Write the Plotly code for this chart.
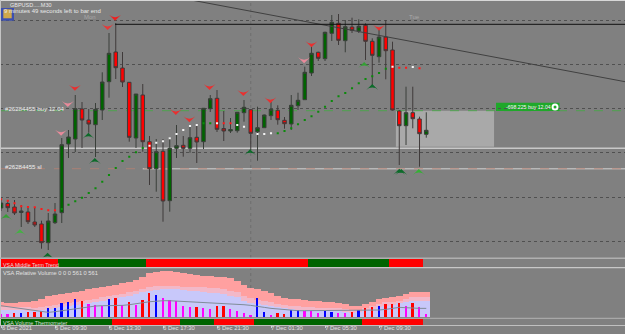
import plotly.graph_objects as go

W, H = 625, 334

# M30 candles, price in chart points
opens = [50, 54.5, 51, 45.5, 46, 36, 34, 15.3, 35.3, 45.3, 114, 119, 149, 138, 133.3, 148,
         176.3, 206, 190, 175.7, 120, 163, 116.3, 89.3, 106.7, 57.3, 109.7, 112.7, 109.7, 120.7, 116.3, 149.3,
         159.7, 129.5, 127, 127.3, 145.3, 148.3, 126.3, 130.3, 142.3, 147.7, 137.7, 134, 152.3, 158.3, 185, 205.7,
         199.3, 224.7, 234.7, 217.3, 231, 227, 232.7, 216.7, 201.3, 221, 208, 147, 132.3, 145.3, 139, 123.7]
highs = [58, 58, 58, 53, 51, 51, 37.3, 45, 55, 120, 128, 163, 156, 149, 155, 185.7,
         225, 235, 206, 176, 164, 174, 122, 119, 119, 121, 133, 122, 133, 133, 150, 163,
         168, 147, 140, 146, 158, 149, 151.3, 143.5, 156.3, 152.7, 141, 163, 165.3, 191.3, 213, 206.3,
         226.3, 243, 244, 238, 240.3, 238.7, 234.7, 219.7, 228, 238, 216.3, 148, 171.3, 171.3, 141.3, 145.7]
lows = [47, 46, 43, 31, 34, 31, 9.3, 8, 34, 35, 100, 106, 110, 125.3, 101, 138,
        160.3, 179, 171, 116.3, 110, 106.3, 73, 66.3, 36.3, 46.3, 100, 101.3, 105.3, 95, 109, 146,
        126, 117, 125, 125.3, 136.3, 108, 97.3, 130, 138, 133.3, 129.3, 128, 148, 158, 182, 197,
        197, 217, 213, 205.7, 225, 225, 198, 173, 195.3, 178.7, 147.5, 93, 113, 129.7, 91.3, 120.3]
closes = [55, 50.3, 45, 47, 36.3, 33, 15.3, 37, 44, 113.3, 121, 149.3, 138, 134, 148.7, 176,
          204.7, 190.3, 176, 120.7, 164, 116.3, 89.3, 106.3, 57, 109.7, 112.3, 109.7, 120.3, 116, 149.7, 159.3,
          128.7, 127, 128.5, 145.7, 150.7, 124.7, 130.3, 143, 148.7, 138.3, 134.3, 152.7, 157.7, 185.7, 204.7, 199.7,
          225.7, 235.7, 217.7, 231.3, 227.7, 231.7, 216.7, 202.7, 221, 207.3, 148, 132.3, 145.3, 139.3, 124.3, 127.7]
bars = list(range(len(opens)))

# Trailing stop dots: bar, level, state
stop_bars = [0, 1, 2, 3, 4, 5, 6, 7, 8, 9, 10, 11, 12, 13, 14, 15, 16, 17, 18, 19, 20, 21,
             22, 23, 24, 25, 26, 27, 28, 29, 30, 31, 32, 33, 34, 35, 36, 38, 39, 40, 41, 42,
             43, 44, 45, 46, 47, 48, 49, 50, 51, 52, 53, 54, 55, 56, 57, 58, 59, 60, 61, 62]
stop_levels = [58.7, 57.3, 54.7, 51.7, 51, 50.7, 49, 47.7, 47.7, 49, 53.3, 56.7, 60.3, 65, 69.7, 76.3, 83, 90, 97, 101.3, 105.7, 110,
               112.3, 115.3, 116.7, 119.7, 124, 128, 132, 133, 134.7, 134.7, 134.7, 134.7, 134.7, 133, 131.3, 124, 124, 124.7, 124.7, 127,
               129.7, 133.7, 138, 141.7, 146.3, 151.3, 157, 161.7, 165, 169.7, 174.7, 179, 181.7, 185, 189.3, 191.3, 190.3, 190.3, 191, 189.7]
stop_states = ["r"] * 9 + ["g"] * 13 + ["w"] * 8 + ["g", "g", "w", "r", "r", "w", "w", "w", "w", "w", "g", "g"] \
    + ["g"] * 15 + ["w", "r", "r", "w", "r"]
STATE_COLOURS = {"r": "#ff1a1a", "g": "#0c8a0c", "w": "#f4f4f4"}

# Swing arrows: bar position and level
sell_bars = [16.9, 15.8, 10.95, 9.9, 25.9, 27.9, 30.9, 35.9, 39.9, 46.0, 44.9, 56.0, 8.9]
sell_levels = [237.3, 228, 167.3, 151, 143, 135.7, 168, 162, 154.7, 210.7, 194.7, 227.3, 122.3]
sell_colours = ["#ee2020", "#e83838", "#e83030", "#e88a9a", "#e83030", "#e83030", "#e83030", "#e83030",
                "#e83030", "#e83030", "#e88a9a", "#e83030", "#e88a9a"]
buy_bars = [0.75, 2.8, 6.9, 13.9, 12.95, 36.9, 59.0, 53.8, 55.0, 61.9, 59.3]
buy_levels = [44, 28.7, 5.3, 100, 125.3, 108.7, 89.3, 196, 174, 89, 89]
buy_colours = ["#35a035", "#45b045", "#0d6b2a", "#0d6b2a", "#0d6b2a", "#0d6b2a", "#0d6b2a", "#35a035", "#0d6b2a", "#35b035", "#0d6b2a"]

# Trend strips: per-bar states
mid_term = ["r"] * 9 + ["g"] * 13 + ["r"] * 24 + ["g"] * 12 + ["r"] * 5 + ["n"]
thermo = ["g"] * 17 + ["r"] * 10 + ["g"] * 5 + ["r"] * 6 + ["g"] * 16 + ["r"] * 9 + ["n"]
STRIP_COLOURS = {"r": "#ff0000", "g": "#006400", "n": "#808080"}

# Relative volume panel
volume = [7, 7, 11, 11, 14, 15, 17, 27, 28, 41, 45, 54, 49, 39, 35, 32,
          53, 58, 37, 44, 36, 52, 73, 67, 57, 50, 48, 32, 29, 30, 27, 24,
          32, 34, 23, 17, 12, 4, 57, 15, 6, 10, 8, 19, 19, 18, 17, 12,
          18, 14, 12, 10, 13, 22, 27, 31, 32, 39, 38, 42, 32, 42, 31, 9]
volume_class = list("mmrbrrrbbbbbrmmmbrmrmrrbmmmmmrmm" "rrmmmmbbmrrbbmmmbbmmrbrrbrrrmrmm")
VOLUME_COLOURS = {"m": "#ff00ff", "r": "#ff0000", "b": "#0000ff"}
band_high = [44, 43, 43, 44, 46, 48, 53, 64, 65, 69, 71, 75, 79, 83, 86, 90,
             93, 97, 101, 105, 111, 121, 131, 136, 137, 137, 136, 132, 129, 126, 123, 122,
             121, 119, 116, 109, 96, 87, 85, 77, 71, 64, 58, 55, 54, 52, 49, 47,
             46, 44, 43, 39, 34, 34, 39, 46, 53, 57, 59, 62, 68, 75, 76, 74]
band_mid = [31, 29, 29, 29, 29, 28, 29, 34, 37, 39, 42, 46, 49, 52, 55, 59,
            62, 66, 69, 74, 79, 84, 89, 92, 94, 94, 93, 91, 89, 89, 89, 87,
            86, 84, 79, 74, 64, 56, 52, 48, 44, 40, 37, 34, 32, 31, 29, 28,
            27, 26, 26, 24, 21, 22, 26, 32, 39, 44, 46, 49, 54, 59, 59, 59]
band_low = [19, 19, 19, 19, 18, 17, 19, 24, 27, 29, 32, 36, 39, 42, 46, 49,
            52, 56, 59, 64, 69, 74, 79, 82, 84, 84, 83, 81, 79, 77, 74, 72,
            71, 69, 64, 59, 49, 43, 39, 36, 32, 29, 26, 24, 22, 21, 19, 19,
            18, 17, 17, 15, 11, 14, 19, 24, 29, 34, 37, 41, 44, 49, 49, 49]
volume_avg = [34, 31, 27, 24, 21, 19, 17, 14, 16, 19, 22, 26, 29, 31, 33, 34,
              34, 34, 35, 37, 39, 43, 46, 48, 49, 49, 48, 47, 46, 46, 44, 42,
              42, 41, 39, 38, 37, 35, 33, 29, 26, 24, 22, 20, 19, 19, 19, 19,
              19, 19, 19, 19, 19, 19, 19, 20, 21, 23, 26, 29, 28, 26, 26, 26]

# Axis ticks and price levels
tick_bars = [0, 8, 16, 24, 32, 40, 48, 56]
tick_labels = ["6 Dec 2021", "6 Dec 09:30", "6 Dec 13:30", "6 Dec 17:30",
               "6 Dec 21:30", "7 Dec 01:30", "7 Dec 05:30", "7 Dec 09:30"]
grid_levels = [237.7, 193.3, 149.5, 105.7, 60.7, 16.7]
resistance_level = 233.7
resistance_start = 16.9
trend_bars = [28.15, 92.44]
trend_levels = [258, 176.3]
buy_level = 147.3
stop_level = 89.3
upper_level = 109.7
profit_zone_bars = [58.5, 73.04]
profit_zone_levels = [111.3, 147.3]
separator_bar = 37
X_RANGE = [-0.148, 92.44]

BG = "#808080"
FONT = "Liberation Sans"


def vdom(top, bottom):
    return [1 - bottom / H, 1 - top / H]


fig = go.Figure()

# Price panel
fig.add_trace(go.Candlestick(
    x=bars, open=opens, high=highs, low=lows, close=closes, xaxis="x", yaxis="y",
    increasing=dict(fillcolor="#006400", line=dict(color="#3a3f3a", width=1)),
    decreasing=dict(fillcolor="#ff0000", line=dict(color="#3f3a3a", width=1)),
    whiskerwidth=0, hoverinfo="skip", showlegend=False))
fig.add_trace(go.Scatter(
    x=stop_bars, y=stop_levels, mode="markers", hoverinfo="skip", showlegend=False,
    marker=dict(symbol="square", size=2.1, color=[STATE_COLOURS[s] for s in stop_states], line=dict(width=0))))
fig.add_trace(go.Scatter(
    x=sell_bars, y=sell_levels, mode="markers", hoverinfo="skip", showlegend=False,
    marker=dict(symbol="arrow-wide", angle=180, size=8.5, color=sell_colours, line=dict(width=0))))
fig.add_trace(go.Scatter(
    x=buy_bars, y=buy_levels, mode="markers", hoverinfo="skip", showlegend=False,
    marker=dict(symbol="arrow-wide", size=8.5, color=buy_colours, line=dict(width=0))))
fig.add_trace(go.Scatter(
    x=trend_bars, y=trend_levels, mode="lines", hoverinfo="skip", showlegend=False,
    line=dict(color="#404040", width=1)))
fig.add_trace(go.Scatter(
    x=[resistance_start, X_RANGE[1]], y=[resistance_level, resistance_level], mode="lines",
    hoverinfo="skip", showlegend=False, line=dict(color="#101010", width=1)))

# Trend strips
fig.add_trace(go.Bar(x=bars, y=[1] * len(bars), width=1.02, yaxis="y2", hoverinfo="skip", showlegend=False,
                     marker=dict(color=[STRIP_COLOURS[s] for s in mid_term], line=dict(width=0))))
fig.add_trace(go.Bar(x=bars, y=[1] * len(bars), width=1.02, yaxis="y4", hoverinfo="skip", showlegend=False,
                     marker=dict(color=[STRIP_COLOURS[s] for s in thermo], line=dict(width=0))))

# Relative volume bands, average and bars
for band, colour in ((band_high, "#ffa0a0"), (band_mid, "#f2b8c8"), (band_low, "#c8c8fa")):
    fig.add_trace(go.Bar(x=bars, y=band, width=1.02, yaxis="y3", hoverinfo="skip", showlegend=False,
                         marker=dict(color=colour, line=dict(width=0))))
fig.add_trace(go.Scatter(x=bars, y=volume_avg, yaxis="y3", mode="lines", hoverinfo="skip", showlegend=False,
                         line=dict(color="#7f8c98", width=1)))
fig.add_trace(go.Bar(x=bars, y=volume, width=0.27, yaxis="y3", hoverinfo="skip", showlegend=False,
                     marker=dict(color=[VOLUME_COLOURS[c] for c in volume_class], line=dict(width=0))))

# Order label gear
fig.add_trace(go.Scatter(
    x=[(555 - 1) / 6.75], y=[258 - 107], mode="markers", hoverinfo="skip", showlegend=False,
    marker=dict(symbol="circle-open", size=5, color="#ffffff", line=dict(width=2, color="#ffffff"))))


def paper_rect(x0, y0, x1, y1, colour, layer="above"):
    return dict(type="rect", xref="paper", yref="paper", x0=x0 / W, x1=x1 / W, y0=1 - y0 / H, y1=1 - y1 / H,
                fillcolor=colour, line=dict(width=0), layer=layer)


def level_line(level, colour, width, dash="solid", start=None):
    return dict(type="line", xref="x", yref="y", x0=X_RANGE[0] if start is None else start, x1=X_RANGE[1],
                y0=level, y1=level, line=dict(color=colour, width=width, dash=dash), layer="below")


shapes = [
    dict(type="rect", xref="x", yref="y", x0=profit_zone_bars[0], x1=profit_zone_bars[1],
         y0=profit_zone_levels[0], y1=profit_zone_levels[1], fillcolor="#a9a9a9", line=dict(width=0), layer="below"),
    level_line(upper_level, "#c8c8c8", 1.5),
    level_line(stop_level, "#b8b8b8", 1.5, start=21),
    level_line(stop_level, "#bb8070", 0.7, "dash"),
    level_line(buy_level, "#3ab03a", 0.7, "dash"),
    dict(type="line", xref="x", yref="paper", x0=separator_bar, x1=separator_bar, y0=1 - 318 / H, y1=1,
         line=dict(color="#6e6e6e", width=1, dash="dot"), layer="below"),
    # Window frame and panel separators
    paper_rect(0, 0, W, 1, "#d8d8d8"),
    paper_rect(0, 0, 1, 326, "#c4c4c4"),
    paper_rect(0, 257.6, W, 259, "#b0b0b0"),
    paper_rect(0, 267, W, 268.2, "#c8c8c8"),
    paper_rect(0, 317.8, W, 319, "#a8a8a8"),
    paper_rect(0, 325, W, 326, "#c0c0c0"),
    # Order label and expert icon
    dict(type="rect", xref="x", yref="y", x0=(496 - 1) / 6.75, x1=(559.5 - 1) / 6.75, y0=258 - 111, y1=258 - 102.7,
         fillcolor="#1fa82a", line=dict(width=0), layer="below"),
    paper_rect(1, 8, 14, 20.7, "#3c4fb0"),
    paper_rect(3.3, 9.3, 11.7, 18.3, "#d0a84c"),
]


def label(x, y, text, colour="#e8e8e8", size=6.0):
    return dict(xref="paper", yref="paper", x=x / W, y=1 - y / H, text=text, showarrow=False,
                xanchor="left", yanchor="middle", borderpad=0, align="left",
                font=dict(family=FONT, size=size, color=colour))


annotations = [
    label(8.5, 5.2, "GBPUSD.....M30", size=5.5),
    label(3, 11, "9 minutes 49 seconds left to bar end"),
    label(83, 17, "Mon", "#a8a8a8"),
    label(408, 17, "Tue", "#a8a8a8"),
    label(4, 108, "#26284455 buy 12.04", "#eeeeee", 6.1),
    label(4, 166, "#26284455 sl", "#eeeeee", 6.1),
    label(505, 107, "-698.225 buy 12.04", "#f8f8f8", 5.2),
    label(2, 264.7, "VSA Middle Term Trend", "#dedede", 5.35),
    label(2, 273, "VSA Relative Volume 0 0 0 561 0 561", "#e0e0e0", 5.7),
    label(2, 323, "VSA Volume Thermometer", "#dedede", 5.45),
]

hidden = dict(showticklabels=False, showgrid=False, zeroline=False, ticks="", fixedrange=True)

fig.update_layout(
    width=W, height=H, margin=dict(l=0, r=0, t=0, b=0),
    paper_bgcolor=BG, plot_bgcolor=BG, showlegend=False, barmode="overlay", bargap=0, boxgap=0.25,
    shapes=shapes, annotations=annotations,
    xaxis=dict(domain=[0, 1], range=X_RANGE, anchor="y4", showgrid=False, zeroline=False,
               tickmode="array", tickvals=tick_bars, ticktext=tick_labels, ticks="outside",
               ticklen=2, tickcolor="#d0d0d0", tickwidth=1, ticklabelshift=16, ticklabelstandoff=-5,
               tickfont=dict(family=FONT, size=5.9, color="#e4e4e4"), showline=False,
               rangeslider=dict(visible=False), fixedrange=True, automargin=False),
    yaxis=dict(domain=vdom(1, 257.6), range=[0.4, 257], showticklabels=False, zeroline=False, ticks="",
               tickmode="array", tickvals=grid_levels, showgrid=True, gridcolor="#505050", griddash="dot",
               gridwidth=1, fixedrange=True),
    yaxis2=dict(domain=vdom(259, 267), range=[0, 1], **hidden),
    yaxis3=dict(domain=vdom(268.2, 317), range=[0, 147], **hidden),
    yaxis4=dict(domain=vdom(319, 325), range=[0, 1], **hidden),
)

fig.write_html("out.html", config=dict(displayModeBar=False))
